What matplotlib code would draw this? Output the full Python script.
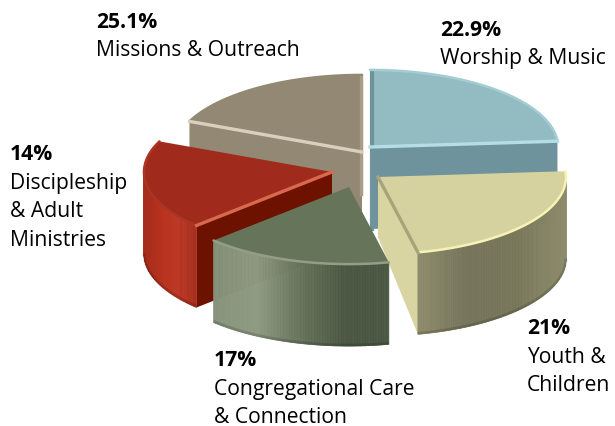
import numpy as np
import matplotlib
matplotlib.use("Agg")
import matplotlib.pyplot as plt
from matplotlib.colors import LinearSegmentedColormap
from matplotlib.patches import Polygon

# ── Data ──────────────────────────────────────────────────────────────────────
categories = ["Worship & Music", "Youth &\nChildren", "Congregational Care\n& Connection",
              "Discipleship\n& Adult\nMinistries", "Missions & Outreach"]
printed_pct = ["22.9%", "21%", "17%", "14%", "25.1%"]
# wedge sizes as drawn in the picture, they do not follow the printed percentages
drawn_share = [23.8, 22.8, 16.2, 18.7, 18.5]

# ── Style ─────────────────────────────────────────────────────────────────────
R = 188
TILT = 0.41
DEPTH = 82

apex = [(370, 148), (378, 178), (349, 188), (332, 173), (362, 153)]
top_col = ["#93bbc2", "#d6d29f", "#66755a", "#a02a1b", "#928873"]
rim_col = ["#a3ccd3", "#f7f3b7", "#929f86", "#ab3522", "#928873"]
edge_col = ["#b5dde6", "#a8a47a", "#66755a", "#d8694f", "#d8d0bd"]
cut_col = ["#6f939c", "#d9d5a3", "#4a5641", "#6e1200", "#928873"]
wall_cols = [["#6f939c", "#6f939c"],
             ["#8e8c6c", "#75745a", "#777659", "#8e8c6c"],
             ["#86927b", "#8e9a82", "#66735a", "#4a5641", "#4a5641"],
             ["#a52c1b", "#b8321f", "#bb3522", "#a52c1b"],
             ["#928873", "#928873"]]
# which end of the wedge shows its flat cut: 1 = clockwise end, 0 = start, None = hidden
cut_end = [1, 1, None, 0, 0]
# back to front
draw_order = [4, 0, 3, 1, 2]

label_xy = [(440, 30), (527, 329), (214, 361), (10, 155), (96, 22)]
LINE = 28.5


def rim(cx, cy, angles):
    t = np.radians(angles)
    return np.column_stack([cx + R * np.cos(t), cy - R * TILT * np.sin(t)])


fig = plt.figure(figsize=(6.15, 4.27), dpi=100)
ax = fig.add_axes([0, 0, 1, 1])
ax.set_xlim(0, 615)
ax.set_ylim(427, 0)
ax.axis("off")

# clockwise from the top
sizes = np.array(drawn_share) / sum(drawn_share) * 360
starts = 90 - np.concatenate([[0], np.cumsum(sizes)[:-1]])

for z, i in enumerate(draw_order):
    cx, cy = apex[i]
    a0, a1 = starts[i], starts[i] - sizes[i]
    angles = np.linspace(a0, a1, 120)
    arc = rim(cx, cy, angles)
    zo = 2 + z

    # flat cut
    end = None
    if cut_end[i] is not None:
        end = rim(cx, cy, [a1 if cut_end[i] else a0])[0]
        back = DEPTH - 22 if i == 1 else DEPTH
        cut = [(cx, cy), end, end + [0, DEPTH], (cx, cy + back)]
        ax.add_patch(Polygon(cut, closed=True, fc=cut_col[i], ec="none", zorder=zo))

    # outer wall, in thin strips so the shading can run along it
    front = angles[np.sin(np.radians(angles)) < 0.001]
    if len(front) > 1:
        cmap = LinearSegmentedColormap.from_list("wall", wall_cols[i])
        pts = rim(cx, cy, front)
        lo, hi = pts[:, 0].min(), pts[:, 0].max()
        for j in range(len(pts) - 1):
            a, b = pts[j], pts[j + 1]
            col = cmap((a[0] - lo) / (hi - lo))
            ax.add_patch(Polygon([a, b, b + [0, DEPTH], a + [0, DEPTH]], closed=True,
                                 fc=col, ec=col, lw=0.5, zorder=zo))
        # dark lip at the bottom of the wall
        ax.plot(pts[:, 0], pts[:, 1] + DEPTH - 1, color="#000000", alpha=0.15, lw=2,
                zorder=zo, solid_capstyle="butt")

    # top face
    ax.add_patch(Polygon(np.vstack([[(cx, cy)], arc]), closed=True, fc=top_col[i],
                         ec="none", zorder=zo + 0.1))

    # bevel highlights
    ax.plot(arc[:, 0], arc[:, 1], color=rim_col[i], lw=1.8, zorder=zo + 0.2,
            solid_capstyle="round")
    if end is not None:
        ax.plot([cx, end[0]], [cy, end[1]], color=edge_col[i], lw=2.4, zorder=zo + 0.2)
    # thin strip along the vertical cut at the top of the two back wedges
    if i == 0:
        ax.plot([cx + 2, cx + 2], [cy - R * TILT + 2, cy + DEPTH], color="#6f939c", lw=3,
                zorder=zo + 0.15)
    if i == 4:
        ax.plot([cx - 1, cx - 1], [cy - R * TILT + 2, cy + DEPTH - 40], color="#a89e88", lw=2.5,
                zorder=zo + 0.15)

# ── Labels ────────────────────────────────────────────────────────────────────
plt.rcParams["font.family"] = ["Open Sans", "DejaVu Sans"]
for name, pct, (x, y) in zip(categories, printed_pct, label_xy):
    ax.text(x, y, pct, fontsize=15.2, fontweight="bold", color="#000000", va="center", ha="left", zorder=20)
    for n, line in enumerate(name.split("\n")):
        ax.text(x, y + LINE * (n + 1), line, fontsize=15.2, color="#000000", va="center", ha="left", zorder=20)

fig.savefig("out.png", dpi=100)
